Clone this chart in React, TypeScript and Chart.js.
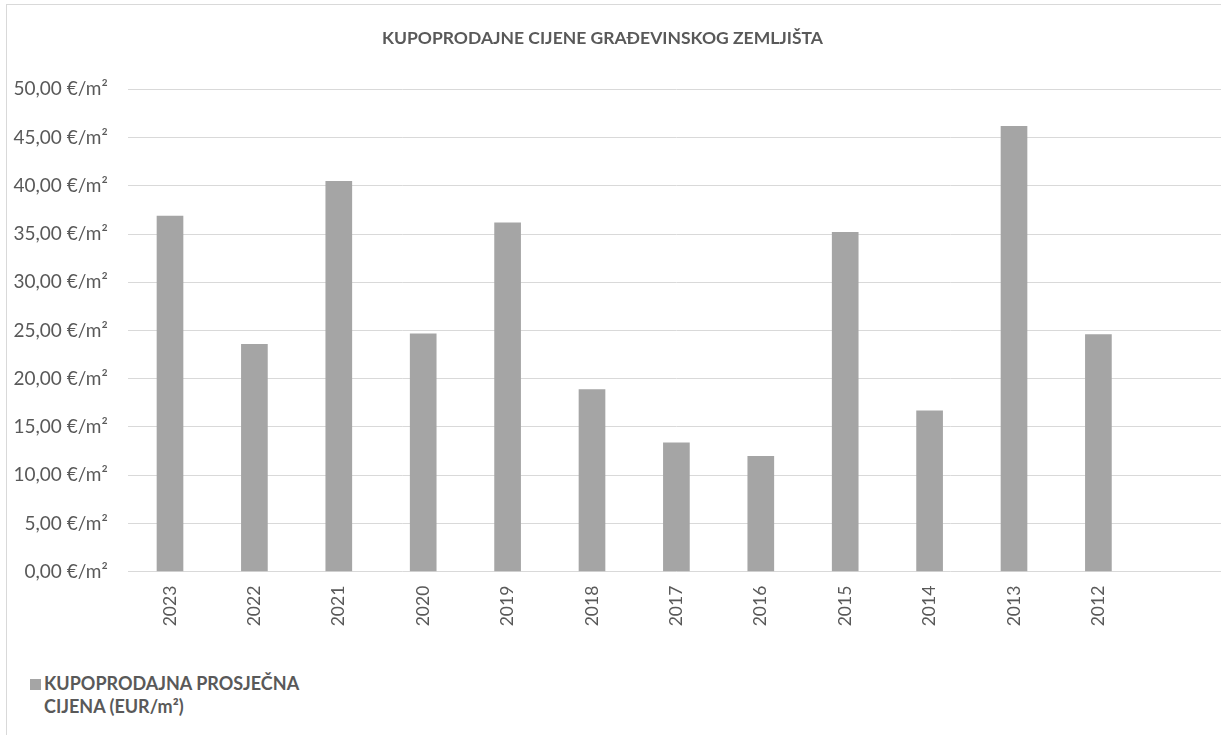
import React, { useEffect, useRef } from "react";
import { Chart, registerables } from "chart.js";

Chart.register(...registerables);

const categories = ["2023", "2022", "2021", "2020", "2019", "2018", "2017", "2016", "2015", "2014", "2013", "2012", ""];
const prices = [36.9, 23.6, 40.5, 24.7, 36.2, 18.9, 13.4, 12.0, 35.2, 16.7, 46.2, 24.6, null];
const seriesLabel = "KUPOPRODAJNA PROSJEČNA CIJENA (EUR/m²)";
const legendLines = ["KUPOPRODAJNA PROSJEČNA", "CIJENA (EUR/m²)"];
const chartTitle = "KUPOPRODAJNE CIJENE GRAĐEVINSKOG ZEMLJIŠTA";
const yMin = 0;
const yMax = 50;
const yStep = 5;

const FONT = "Lato, 'Open Sans', sans-serif";
const TEXT = "#595959";
const BAR = "#a5a5a5";
const GRID = "#d9d9d9";

const CANVAS_LEFT = -20;
const CANVAS_W = 1245;
const CANVAS_H = 650;
const PLOT_LEFT = 147.8;
const PLOT_BOTTOM = 571.7;

export default function App() {
  const ref = useRef<HTMLCanvasElement | null>(null);

  useEffect(() => {
    if (!ref.current) return;
    const chart = new Chart(ref.current, {
      type: "bar",
      data: {
        labels: categories,
        datasets: [
          {
            label: seriesLabel,
            data: prices as any,
            backgroundColor: BAR,
            borderWidth: 0,
            barPercentage: 0.316,
            categoryPercentage: 1,
          },
        ],
      },
      options: {
        responsive: false,
        animation: false,
        devicePixelRatio: 1,
        layout: { padding: { top: 89.3, left: 0, right: 0, bottom: 0 } },
        plugins: {
          legend: { display: false },
          title: { display: false },
          tooltip: { enabled: false },
        },
        scales: {
          x: {
            grid: { display: false, drawTicks: false },
            border: { display: false },
            ticks: {
              color: TEXT,
              font: { family: FONT, size: 17.5 },
              minRotation: 90,
              maxRotation: 90,
              padding: 14,
              autoSkip: false,
            },
            afterFit: (scale: any) => {
              scale.height = CANVAS_H - PLOT_BOTTOM;
            },
          },
          y: {
            min: yMin,
            max: yMax,
            grid: { color: GRID, lineWidth: 1, drawTicks: false },
            border: { display: false },
            ticks: {
              stepSize: yStep,
              color: TEXT,
              font: { family: FONT, size: 19 },
              padding: 20,
              callback: (v: any) => Number(v).toFixed(2).replace(".", ",") + " €/m²",
            },
            afterFit: (scale: any) => {
              scale.width = PLOT_LEFT;
            },
          },
        },
      },
    });
    return () => chart.destroy();
  }, []);

  return (
    <div
      style={{
        position: "fixed",
        left: 0,
        top: 0,
        width: 1221,
        height: 735,
        overflow: "hidden",
        background: "#fff",
      }}
    >
      <div
        style={{
          position: "absolute",
          left: 6,
          top: 4,
          width: 1400,
          height: 900,
          border: `1px solid ${GRID}`,
        }}
      />
      <canvas
        ref={ref}
        width={CANVAS_W}
        height={CANVAS_H}
        style={{ position: "absolute", left: CANVAS_LEFT, top: 0, width: CANVAS_W, height: CANVAS_H }}
      />
      <div
        style={{
          position: "absolute",
          left: 0,
          top: 28,
          width: 1205,
          textAlign: "center",
          fontFamily: FONT,
          fontWeight: 700,
          fontSize: 17.5,
          lineHeight: "20px",
          color: TEXT,
          whiteSpace: "nowrap",
        }}
      >
        {chartTitle}
      </div>
      <div
        style={{
          position: "absolute",
          left: 30,
          top: 679,
          width: 11,
          height: 11,
          background: BAR,
        }}
      />
      <div
        style={{
          position: "absolute",
          left: 44,
          top: 671.5,
          fontFamily: FONT,
          fontWeight: 700,
          fontSize: 18,
          lineHeight: "23.5px",
          color: TEXT,
          whiteSpace: "nowrap",
        }}
      >
        {legendLines.map((l, i) => (
          <div key={i}>{l}</div>
        ))}
      </div>
    </div>
  );
}
